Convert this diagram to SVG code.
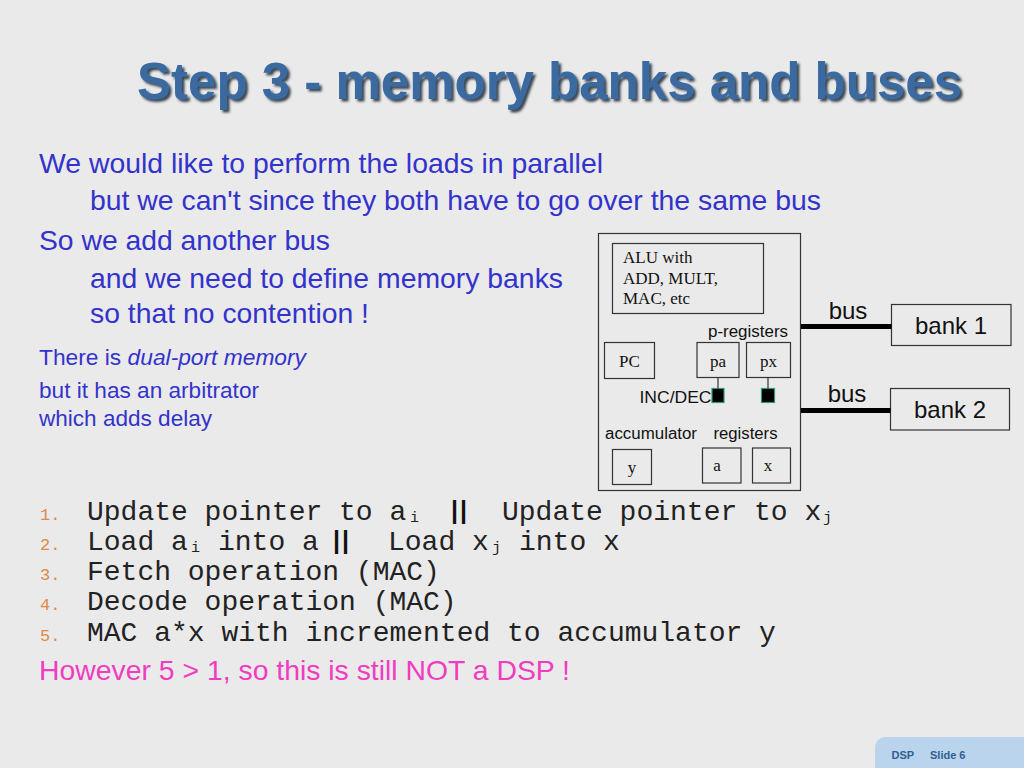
<svg xmlns="http://www.w3.org/2000/svg" width="1024" height="768" viewBox="0 0 1024 768">
<defs>
<filter id="shadow" x="-5%" y="-20%" width="110%" height="140%">
<feDropShadow dx="2.5" dy="2.5" stdDeviation="0.8" flood-color="#2A3440" flood-opacity="0.9"/>
</filter>
</defs>
<style>
.body{font-family:"Liberation Sans",Arial,sans-serif;fill:#3333CC;font-size:28px}
.small{font-family:"Liberation Sans",Arial,sans-serif;fill:#3333CC;font-size:22.5px}
.mono{font-family:"Liberation Mono","Courier New",monospace;fill:#222;font-size:28px}
.sub{font-size:15px}
.num{font-family:"Liberation Mono","Courier New",monospace;fill:#E08848;font-size:17px}
.bars{font-family:"Liberation Sans",Arial,sans-serif;font-weight:bold;fill:#111;font-size:25px;letter-spacing:2px}
.box{fill:none;stroke:#333;stroke-width:1.2}
.serif{font-family:"Liberation Serif","Times New Roman",serif;fill:#111;font-size:17px}
.lab{font-family:"Liberation Sans",Arial,sans-serif;fill:#111;font-size:16px}
.big{font-family:"Liberation Sans",Arial,sans-serif;fill:#111;font-size:24px}
.bus{stroke:#000;stroke-width:5}
.sq{fill:#000;stroke:#2A9A80;stroke-width:1.2}
.tick{stroke:#333;stroke-width:1.2}
.foot{font-family:"Liberation Sans",Arial,sans-serif;font-weight:bold;fill:#2F5F8F;font-size:11px}
</style>
<rect x="0" y="0" width="1024" height="768" fill="#EAEAEA"/>

<g id="title">
<text x="137" y="99" font-family="'Liberation Sans',Arial,sans-serif" font-weight="bold" font-size="52" fill="#3A6AA0" textLength="825" lengthAdjust="spacingAndGlyphs" filter="url(#shadow)">Step 3 - memory banks and buses</text>
</g>

<g id="text-body">
<text class="body" x="39" y="173" textLength="564" lengthAdjust="spacingAndGlyphs">We would like to perform the loads in parallel</text>
<text class="body" x="90" y="210" textLength="731" lengthAdjust="spacingAndGlyphs">but we can't since they both have to go over the same bus</text>
<text class="body" x="39" y="250" textLength="291" lengthAdjust="spacingAndGlyphs">So we add another bus</text>
<text class="body" x="90" y="288" textLength="473" lengthAdjust="spacingAndGlyphs">and we need to define memory banks</text>
<text class="body" x="90" y="323" textLength="279" lengthAdjust="spacingAndGlyphs">so that no contention !</text>
<text class="small" x="39" y="365" textLength="267" lengthAdjust="spacingAndGlyphs">There is <tspan font-style="italic">dual-port memory</tspan></text>
<text class="small" x="39" y="398" textLength="220" lengthAdjust="spacingAndGlyphs">but it has an arbitrator</text>
<text class="small" x="39" y="426" textLength="173" lengthAdjust="spacingAndGlyphs">which adds delay</text>
</g>

<g id="steps">
<text class="num" x="40" y="520">1.</text>
<text class="num" x="40" y="550">2.</text>
<text class="num" x="40" y="580">3.</text>
<text class="num" x="40" y="610">4.</text>
<text class="num" x="40" y="641">5.</text>
<text class="mono" x="87" y="520">Update pointer to a<tspan class="sub" x="410" y="522">i</tspan><tspan class="bars" x="451" y="519">||</tspan><tspan x="502" y="520">Update pointer to x</tspan><tspan class="sub" x="823" y="522">j</tspan></text>
<text class="mono" x="87" y="550">Load a<tspan class="sub" x="191" y="552">i</tspan><tspan x="218" y="550">into a</tspan><tspan class="bars" x="333" y="549">||</tspan><tspan x="388" y="550">Load x</tspan><tspan class="sub" x="492" y="552">j</tspan><tspan x="519" y="550">into x</tspan></text>
<text class="mono" x="87" y="580">Fetch operation (MAC)</text>
<text class="mono" x="87" y="610">Decode operation (MAC)</text>
<text class="mono" x="87" y="641">MAC a*x with incremented to accumulator y</text>
<text x="39" y="680" font-family="'Liberation Sans',Arial,sans-serif" font-size="28" fill="#F03CC0" textLength="531" lengthAdjust="spacingAndGlyphs">However 5 &gt; 1, so this is still NOT a DSP !</text>
</g>

<g id="cpu">
<rect class="box" x="598.5" y="233.5" width="202" height="257"/>
</g>
<g id="alu">
<rect class="box" x="612.5" y="243.5" width="151" height="70"/>
<text class="serif" x="623" y="262.5">ALU with</text>
<text class="serif" x="623" y="283.5">ADD, MULT,</text>
<text class="serif" x="623" y="303.5">MAC, etc</text>
</g>
<g id="pc">
<rect class="box" x="604.5" y="342.5" width="50" height="36"/>
<text class="serif" x="629.5" y="367" text-anchor="middle">PC</text>
</g>
<g id="p-registers-label">
<text class="lab" x="708" y="337" textLength="80" lengthAdjust="spacingAndGlyphs">p-registers</text>
</g>
<g id="pa">
<rect class="box" x="697" y="342.5" width="42" height="35"/>
<text class="serif" x="718" y="366.5" text-anchor="middle">pa</text>
</g>
<g id="px">
<rect class="box" x="746.5" y="342.5" width="44" height="35"/>
<text class="serif" x="768.5" y="366.5" text-anchor="middle">px</text>
</g>
<g id="incdec">
<text class="lab" x="639.5" y="403" textLength="72" lengthAdjust="spacingAndGlyphs">INC/DEC</text>
<rect class="sq" x="712" y="388.5" width="12" height="14"/>
<rect class="sq" x="761.5" y="388.5" width="13" height="14"/>
</g>
<g id="reg-labels">
<text class="lab" x="605" y="438.5" textLength="92" lengthAdjust="spacingAndGlyphs">accumulator</text>
<text class="lab" x="713.5" y="438.5" textLength="64" lengthAdjust="spacingAndGlyphs">registers</text>
</g>
<g id="y">
<rect class="box" x="612.5" y="449.5" width="39" height="35"/>
<text class="serif" x="632" y="473" text-anchor="middle">y</text>
</g>
<g id="a">
<rect class="box" x="702.5" y="448" width="38.5" height="35"/>
<text class="serif" x="717" y="471" text-anchor="middle">a</text>
</g>
<g id="x">
<rect class="box" x="752.5" y="448" width="38" height="35"/>
<text class="serif" x="768" y="471" text-anchor="middle">x</text>
</g>
<g id="bank1">
<rect class="box" x="891.5" y="304.5" width="119.5" height="41"/>
<text class="big" x="951" y="334" text-anchor="middle">bank 1</text>
</g>
<g id="bank2">
<rect class="box" x="890.5" y="388.5" width="119" height="41.5"/>
<text class="big" x="950" y="418" text-anchor="middle">bank 2</text>
</g>

<g id="connectors">
<line class="bus" x1="801" y1="326.5" x2="891.5" y2="326.5"/>
<line class="bus" x1="801" y1="410.5" x2="890.5" y2="410.5"/>
<line class="tick" x1="718" y1="377.5" x2="718" y2="388.5"/>
<line class="tick" x1="768" y1="377.5" x2="768" y2="388.5"/>
<text class="big" x="848" y="318.5" text-anchor="middle">bus</text>
<text class="big" x="847" y="402" text-anchor="middle">bus</text>
</g>

<g id="footer">
<path d="M875 768 V749 Q875 737 887 737 H1024 V768 Z" fill="#BAD4EE"/>
<text class="foot" x="891.5" y="758.5">DSP</text>
<text class="foot" x="930" y="758.5">Slide 6</text>
</g>
</svg>
